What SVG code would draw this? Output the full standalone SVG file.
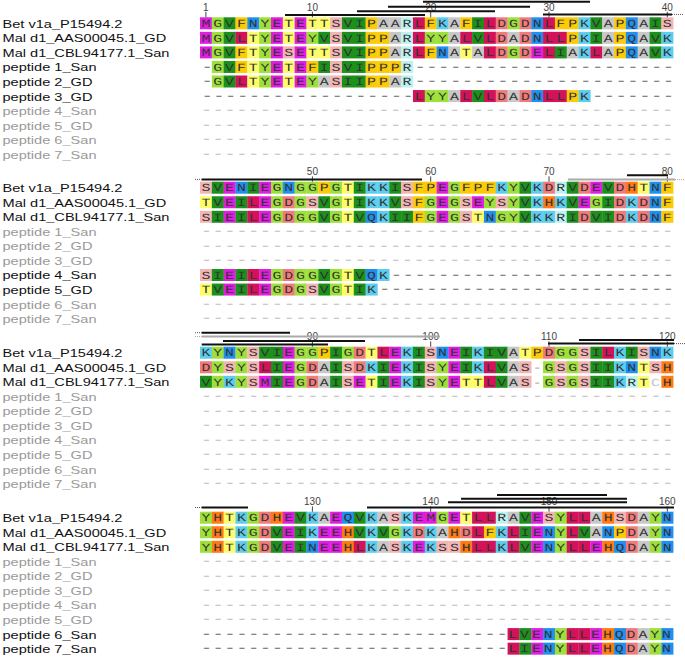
<svg xmlns="http://www.w3.org/2000/svg" width="685" height="658" viewBox="0 0 685 658">
<style>
.lb{font-family:"Liberation Sans",Arial,sans-serif;font-size:10.2px;fill:#111}
.lb .g{fill:#9a9a9a}
.sq{font-family:"Liberation Mono","Courier New",monospace;font-size:11px;fill:#333;letter-spacing:2.162px}
.gp{fill:#777;font-size:14px;letter-spacing:0.362px}
.gpl{fill:#c4c4c4;font-size:14px;letter-spacing:0.362px}
.gg{fill:#999}
.cc{fill:#c4c4c4}
.num{font-family:"Liberation Sans",Arial,sans-serif;font-size:10px;fill:#444;text-anchor:middle}
.cells rect{width:1.02px;height:12px}
.M,.E{fill:#e21ce2}
.G,.Y{fill:#9de03a}
.V,.I{fill:#1b911b}
.F,.P{fill:#fccb05}
.T{fill:#fdfd6c}
.S{fill:#f5b4b4}
.A{fill:#c8c8c8}
.R{fill:#bdf2f2}
.L{fill:#d3125a}
.K{fill:#5ccdee}
.N,.Q{fill:#1f8ff0}
.D{fill:#f37a7a}
.H{fill:#ff7a12}
.C{fill:#ffffff}
.bar{stroke:#111;stroke-width:2}
.gbar{stroke:#aaa;stroke-width:2}
.dot{stroke:#555;stroke-width:1;stroke-dasharray:1 1}
.gdot{stroke:#aaa;stroke-width:1;stroke-dasharray:1 1}
.tick{stroke:#444;stroke-width:1}
</style>
<rect width="685" height="658" fill="#fff"/>

<g id="labels" class="lb" transform="scale(1.43,1)">
<g id="labels-b1">
<text x="1.75" y="27.8">Bet v1a_P15494.2</text>
<text x="1.75" y="42.35">Mal d1_AAS00045.1_GD</text>
<text x="1.75" y="56.9">Mal d1_CBL94177.1_San</text>
<text x="1.75" y="71.45">peptide 1_San</text>
<text x="1.75" y="86">peptide 2_GD</text>
<text x="1.75" y="100.55">peptide 3_GD</text>
<text x="1.75" y="115.1" class="g">peptide 4_San</text>
<text x="1.75" y="129.65" class="g">peptide 5_GD</text>
<text x="1.75" y="144.2" class="g">peptide 6_San</text>
<text x="1.75" y="158.75" class="g">peptide 7_San</text>
</g>
<g id="labels-b2">
<text x="1.75" y="192.2">Bet v1a_P15494.2</text>
<text x="1.75" y="206.75">Mal d1_AAS00045.1_GD</text>
<text x="1.75" y="221.3">Mal d1_CBL94177.1_San</text>
<text x="1.75" y="235.85" class="g">peptide 1_San</text>
<text x="1.75" y="250.4" class="g">peptide 2_GD</text>
<text x="1.75" y="264.95" class="g">peptide 3_GD</text>
<text x="1.75" y="279.5">peptide 4_San</text>
<text x="1.75" y="294.05">peptide 5_GD</text>
<text x="1.75" y="308.6" class="g">peptide 6_San</text>
<text x="1.75" y="323.15" class="g">peptide 7_San</text>
</g>
<g id="labels-b3">
<text x="1.75" y="357.2">Bet v1a_P15494.2</text>
<text x="1.75" y="371.75">Mal d1_AAS00045.1_GD</text>
<text x="1.75" y="386.3">Mal d1_CBL94177.1_San</text>
<text x="1.75" y="400.85" class="g">peptide 1_San</text>
<text x="1.75" y="415.4" class="g">peptide 2_GD</text>
<text x="1.75" y="429.95" class="g">peptide 3_GD</text>
<text x="1.75" y="444.5" class="g">peptide 4_San</text>
<text x="1.75" y="459.05" class="g">peptide 5_GD</text>
<text x="1.75" y="473.6" class="g">peptide 6_San</text>
<text x="1.75" y="488.15" class="g">peptide 7_San</text>
</g>
<g id="labels-b4">
<text x="1.75" y="522.2">Bet v1a_P15494.2</text>
<text x="1.75" y="536.75">Mal d1_AAS00045.1_GD</text>
<text x="1.75" y="551.3">Mal d1_CBL94177.1_San</text>
<text x="1.75" y="565.85" class="g">peptide 1_San</text>
<text x="1.75" y="580.4" class="g">peptide 2_GD</text>
<text x="1.75" y="594.95" class="g">peptide 3_GD</text>
<text x="1.75" y="609.5" class="g">peptide 4_San</text>
<text x="1.75" y="624.05" class="g">peptide 5_GD</text>
<text x="1.75" y="638.6">peptide 6_San</text>
<text x="1.75" y="653.15">peptide 7_San</text>
</g>
</g>

<g id="cells" class="cells">
<g id="b1r0" transform="translate(200,17.3) scale(11.83,1)"><rect x="0" class="M"/><rect x="1" class="G"/><rect x="2" class="V"/><rect x="3" class="F"/><rect x="4" class="N"/><rect x="5" class="Y"/><rect x="6" class="E"/><rect x="7" class="T"/><rect x="8" class="E"/><rect x="9" class="T"/><rect x="10" class="T"/><rect x="11" class="S"/><rect x="12" class="V"/><rect x="13" class="I"/><rect x="14" class="P"/><rect x="15" class="A"/><rect x="16" class="A"/><rect x="17" class="R"/><rect x="18" class="L"/><rect x="19" class="F"/><rect x="20" class="K"/><rect x="21" class="A"/><rect x="22" class="F"/><rect x="23" class="I"/><rect x="24" class="L"/><rect x="25" class="D"/><rect x="26" class="G"/><rect x="27" class="D"/><rect x="28" class="N"/><rect x="29" class="L"/><rect x="30" class="F"/><rect x="31" class="P"/><rect x="32" class="K"/><rect x="33" class="V"/><rect x="34" class="A"/><rect x="35" class="P"/><rect x="36" class="Q"/><rect x="37" class="A"/><rect x="38" class="I"/><rect x="39" class="S"/></g>
<g id="b1r1" transform="translate(200,31.85) scale(11.83,1)"><rect x="0" class="M"/><rect x="1" class="G"/><rect x="2" class="V"/><rect x="3" class="L"/><rect x="4" class="T"/><rect x="5" class="Y"/><rect x="6" class="E"/><rect x="7" class="T"/><rect x="8" class="E"/><rect x="9" class="Y"/><rect x="10" class="V"/><rect x="11" class="S"/><rect x="12" class="V"/><rect x="13" class="I"/><rect x="14" class="P"/><rect x="15" class="P"/><rect x="16" class="A"/><rect x="17" class="R"/><rect x="18" class="L"/><rect x="19" class="Y"/><rect x="20" class="Y"/><rect x="21" class="A"/><rect x="22" class="L"/><rect x="23" class="V"/><rect x="24" class="L"/><rect x="25" class="D"/><rect x="26" class="A"/><rect x="27" class="D"/><rect x="28" class="N"/><rect x="29" class="L"/><rect x="30" class="L"/><rect x="31" class="P"/><rect x="32" class="K"/><rect x="33" class="I"/><rect x="34" class="A"/><rect x="35" class="P"/><rect x="36" class="Q"/><rect x="37" class="A"/><rect x="38" class="V"/><rect x="39" class="K"/></g>
<g id="b1r2" transform="translate(200,46.4) scale(11.83,1)"><rect x="0" class="M"/><rect x="1" class="G"/><rect x="2" class="V"/><rect x="3" class="F"/><rect x="4" class="T"/><rect x="5" class="Y"/><rect x="6" class="E"/><rect x="7" class="S"/><rect x="8" class="E"/><rect x="9" class="T"/><rect x="10" class="T"/><rect x="11" class="S"/><rect x="12" class="V"/><rect x="13" class="I"/><rect x="14" class="P"/><rect x="15" class="P"/><rect x="16" class="A"/><rect x="17" class="R"/><rect x="18" class="L"/><rect x="19" class="F"/><rect x="20" class="N"/><rect x="21" class="A"/><rect x="22" class="T"/><rect x="23" class="A"/><rect x="24" class="L"/><rect x="25" class="D"/><rect x="26" class="G"/><rect x="27" class="D"/><rect x="28" class="E"/><rect x="29" class="L"/><rect x="30" class="I"/><rect x="31" class="A"/><rect x="32" class="K"/><rect x="33" class="L"/><rect x="34" class="A"/><rect x="35" class="P"/><rect x="36" class="Q"/><rect x="37" class="A"/><rect x="38" class="V"/><rect x="39" class="K"/></g>
<g id="b1r3" transform="translate(200,60.95) scale(11.83,1)"><rect x="1" class="G"/><rect x="2" class="V"/><rect x="3" class="F"/><rect x="4" class="T"/><rect x="5" class="Y"/><rect x="6" class="E"/><rect x="7" class="T"/><rect x="8" class="E"/><rect x="9" class="F"/><rect x="10" class="I"/><rect x="11" class="S"/><rect x="12" class="V"/><rect x="13" class="I"/><rect x="14" class="P"/><rect x="15" class="P"/><rect x="16" class="P"/><rect x="17" class="R"/></g>
<g id="b1r4" transform="translate(200,75.5) scale(11.83,1)"><rect x="1" class="G"/><rect x="2" class="V"/><rect x="3" class="L"/><rect x="4" class="T"/><rect x="5" class="Y"/><rect x="6" class="E"/><rect x="7" class="T"/><rect x="8" class="E"/><rect x="9" class="Y"/><rect x="10" class="A"/><rect x="11" class="S"/><rect x="12" class="I"/><rect x="13" class="I"/><rect x="14" class="P"/><rect x="15" class="P"/><rect x="16" class="A"/><rect x="17" class="R"/></g>
<g id="b1r5" transform="translate(200,90.05) scale(11.83,1)"><rect x="18" class="L"/><rect x="19" class="Y"/><rect x="20" class="Y"/><rect x="21" class="A"/><rect x="22" class="L"/><rect x="23" class="V"/><rect x="24" class="L"/><rect x="25" class="D"/><rect x="26" class="A"/><rect x="27" class="D"/><rect x="28" class="N"/><rect x="29" class="L"/><rect x="30" class="L"/><rect x="31" class="P"/><rect x="32" class="K"/></g>

<g id="b2r0" transform="translate(200,181.7) scale(11.83,1)"><rect x="0" class="S"/><rect x="1" class="V"/><rect x="2" class="E"/><rect x="3" class="N"/><rect x="4" class="I"/><rect x="5" class="E"/><rect x="6" class="G"/><rect x="7" class="N"/><rect x="8" class="G"/><rect x="9" class="G"/><rect x="10" class="P"/><rect x="11" class="G"/><rect x="12" class="T"/><rect x="13" class="I"/><rect x="14" class="K"/><rect x="15" class="K"/><rect x="16" class="I"/><rect x="17" class="S"/><rect x="18" class="F"/><rect x="19" class="P"/><rect x="20" class="E"/><rect x="21" class="G"/><rect x="22" class="F"/><rect x="23" class="P"/><rect x="24" class="F"/><rect x="25" class="K"/><rect x="26" class="Y"/><rect x="27" class="V"/><rect x="28" class="K"/><rect x="29" class="D"/><rect x="30" class="R"/><rect x="31" class="V"/><rect x="32" class="D"/><rect x="33" class="E"/><rect x="34" class="V"/><rect x="35" class="D"/><rect x="36" class="H"/><rect x="37" class="T"/><rect x="38" class="N"/><rect x="39" class="F"/></g>
<g id="b2r1" transform="translate(200,196.25) scale(11.83,1)"><rect x="0" class="T"/><rect x="1" class="V"/><rect x="2" class="E"/><rect x="3" class="I"/><rect x="4" class="L"/><rect x="5" class="E"/><rect x="6" class="G"/><rect x="7" class="D"/><rect x="8" class="G"/><rect x="9" class="S"/><rect x="10" class="V"/><rect x="11" class="G"/><rect x="12" class="T"/><rect x="13" class="I"/><rect x="14" class="K"/><rect x="15" class="K"/><rect x="16" class="V"/><rect x="17" class="S"/><rect x="18" class="F"/><rect x="19" class="G"/><rect x="20" class="E"/><rect x="21" class="G"/><rect x="22" class="S"/><rect x="23" class="E"/><rect x="24" class="Y"/><rect x="25" class="S"/><rect x="26" class="Y"/><rect x="27" class="V"/><rect x="28" class="K"/><rect x="29" class="H"/><rect x="30" class="K"/><rect x="31" class="V"/><rect x="32" class="E"/><rect x="33" class="G"/><rect x="34" class="I"/><rect x="35" class="D"/><rect x="36" class="K"/><rect x="37" class="D"/><rect x="38" class="N"/><rect x="39" class="F"/></g>
<g id="b2r2" transform="translate(200,210.8) scale(11.83,1)"><rect x="0" class="S"/><rect x="1" class="I"/><rect x="2" class="E"/><rect x="3" class="I"/><rect x="4" class="L"/><rect x="5" class="E"/><rect x="6" class="G"/><rect x="7" class="D"/><rect x="8" class="G"/><rect x="9" class="G"/><rect x="10" class="V"/><rect x="11" class="G"/><rect x="12" class="T"/><rect x="13" class="V"/><rect x="14" class="Q"/><rect x="15" class="K"/><rect x="16" class="I"/><rect x="17" class="I"/><rect x="18" class="F"/><rect x="19" class="G"/><rect x="20" class="E"/><rect x="21" class="G"/><rect x="22" class="S"/><rect x="23" class="T"/><rect x="24" class="N"/><rect x="25" class="G"/><rect x="26" class="Y"/><rect x="27" class="V"/><rect x="28" class="K"/><rect x="29" class="K"/><rect x="30" class="R"/><rect x="31" class="I"/><rect x="32" class="D"/><rect x="33" class="V"/><rect x="34" class="I"/><rect x="35" class="D"/><rect x="36" class="K"/><rect x="37" class="D"/><rect x="38" class="N"/><rect x="39" class="F"/></g>
<g id="b2r6" transform="translate(200,269) scale(11.83,1)"><rect x="0" class="S"/><rect x="1" class="I"/><rect x="2" class="E"/><rect x="3" class="I"/><rect x="4" class="L"/><rect x="5" class="E"/><rect x="6" class="G"/><rect x="7" class="D"/><rect x="8" class="G"/><rect x="9" class="G"/><rect x="10" class="V"/><rect x="11" class="G"/><rect x="12" class="T"/><rect x="13" class="V"/><rect x="14" class="Q"/><rect x="15" class="K"/></g>
<g id="b2r7" transform="translate(200,283.55) scale(11.83,1)"><rect x="0" class="T"/><rect x="1" class="V"/><rect x="2" class="E"/><rect x="3" class="I"/><rect x="4" class="L"/><rect x="5" class="E"/><rect x="6" class="G"/><rect x="7" class="D"/><rect x="8" class="G"/><rect x="9" class="S"/><rect x="10" class="V"/><rect x="11" class="G"/><rect x="12" class="T"/><rect x="13" class="I"/><rect x="14" class="K"/></g>

<g id="b3r0" transform="translate(200,346.7) scale(11.83,1)"><rect x="0" class="K"/><rect x="1" class="Y"/><rect x="2" class="N"/><rect x="3" class="Y"/><rect x="4" class="S"/><rect x="5" class="V"/><rect x="6" class="I"/><rect x="7" class="E"/><rect x="8" class="G"/><rect x="9" class="G"/><rect x="10" class="P"/><rect x="11" class="I"/><rect x="12" class="G"/><rect x="13" class="D"/><rect x="14" class="T"/><rect x="15" class="L"/><rect x="16" class="E"/><rect x="17" class="K"/><rect x="18" class="I"/><rect x="19" class="S"/><rect x="20" class="N"/><rect x="21" class="E"/><rect x="22" class="I"/><rect x="23" class="K"/><rect x="24" class="I"/><rect x="25" class="V"/><rect x="26" class="A"/><rect x="27" class="T"/><rect x="28" class="P"/><rect x="29" class="D"/><rect x="30" class="G"/><rect x="31" class="G"/><rect x="32" class="S"/><rect x="33" class="I"/><rect x="34" class="L"/><rect x="35" class="K"/><rect x="36" class="I"/><rect x="37" class="S"/><rect x="38" class="N"/><rect x="39" class="K"/></g>
<g id="b3r1" transform="translate(200,361.25) scale(11.83,1)"><rect x="0" class="D"/><rect x="1" class="Y"/><rect x="2" class="S"/><rect x="3" class="Y"/><rect x="4" class="S"/><rect x="5" class="L"/><rect x="6" class="I"/><rect x="7" class="E"/><rect x="8" class="G"/><rect x="9" class="D"/><rect x="10" class="A"/><rect x="11" class="I"/><rect x="12" class="S"/><rect x="13" class="D"/><rect x="14" class="K"/><rect x="15" class="I"/><rect x="16" class="E"/><rect x="17" class="K"/><rect x="18" class="I"/><rect x="19" class="S"/><rect x="20" class="Y"/><rect x="21" class="E"/><rect x="22" class="I"/><rect x="23" class="K"/><rect x="24" class="L"/><rect x="25" class="V"/><rect x="26" class="A"/><rect x="27" class="S"/><rect x="29" class="G"/><rect x="30" class="S"/><rect x="31" class="G"/><rect x="32" class="S"/><rect x="33" class="I"/><rect x="34" class="I"/><rect x="35" class="K"/><rect x="36" class="N"/><rect x="37" class="T"/><rect x="38" class="S"/><rect x="39" class="H"/></g>
<g id="b3r2" transform="translate(200,375.8) scale(11.83,1)"><rect x="0" class="V"/><rect x="1" class="Y"/><rect x="2" class="K"/><rect x="3" class="Y"/><rect x="4" class="S"/><rect x="5" class="M"/><rect x="6" class="I"/><rect x="7" class="E"/><rect x="8" class="G"/><rect x="9" class="D"/><rect x="10" class="A"/><rect x="11" class="I"/><rect x="12" class="S"/><rect x="13" class="E"/><rect x="14" class="T"/><rect x="15" class="I"/><rect x="16" class="E"/><rect x="17" class="K"/><rect x="18" class="I"/><rect x="19" class="S"/><rect x="20" class="Y"/><rect x="21" class="E"/><rect x="22" class="T"/><rect x="23" class="T"/><rect x="24" class="L"/><rect x="25" class="V"/><rect x="26" class="A"/><rect x="27" class="S"/><rect x="29" class="G"/><rect x="30" class="S"/><rect x="31" class="G"/><rect x="32" class="S"/><rect x="33" class="I"/><rect x="34" class="I"/><rect x="35" class="K"/><rect x="36" class="R"/><rect x="37" class="T"/><rect x="38" class="C"/><rect x="39" class="H"/></g>

<g id="b4r0" transform="translate(200,511.7) scale(11.83,1)"><rect x="0" class="Y"/><rect x="1" class="H"/><rect x="2" class="T"/><rect x="3" class="K"/><rect x="4" class="G"/><rect x="5" class="D"/><rect x="6" class="H"/><rect x="7" class="E"/><rect x="8" class="V"/><rect x="9" class="K"/><rect x="10" class="A"/><rect x="11" class="E"/><rect x="12" class="Q"/><rect x="13" class="V"/><rect x="14" class="K"/><rect x="15" class="A"/><rect x="16" class="S"/><rect x="17" class="K"/><rect x="18" class="E"/><rect x="19" class="M"/><rect x="20" class="G"/><rect x="21" class="E"/><rect x="22" class="T"/><rect x="23" class="L"/><rect x="24" class="L"/><rect x="25" class="R"/><rect x="26" class="A"/><rect x="27" class="V"/><rect x="28" class="E"/><rect x="29" class="S"/><rect x="30" class="Y"/><rect x="31" class="L"/><rect x="32" class="L"/><rect x="33" class="A"/><rect x="34" class="H"/><rect x="35" class="S"/><rect x="36" class="D"/><rect x="37" class="A"/><rect x="38" class="Y"/><rect x="39" class="N"/></g>
<g id="b4r1" transform="translate(200,526.25) scale(11.83,1)"><rect x="0" class="Y"/><rect x="1" class="H"/><rect x="2" class="T"/><rect x="3" class="K"/><rect x="4" class="G"/><rect x="5" class="D"/><rect x="6" class="V"/><rect x="7" class="E"/><rect x="8" class="I"/><rect x="9" class="K"/><rect x="10" class="E"/><rect x="11" class="E"/><rect x="12" class="H"/><rect x="13" class="V"/><rect x="14" class="K"/><rect x="15" class="V"/><rect x="16" class="G"/><rect x="17" class="K"/><rect x="18" class="D"/><rect x="19" class="K"/><rect x="20" class="A"/><rect x="21" class="H"/><rect x="22" class="D"/><rect x="23" class="L"/><rect x="24" class="F"/><rect x="25" class="K"/><rect x="26" class="L"/><rect x="27" class="I"/><rect x="28" class="E"/><rect x="29" class="N"/><rect x="30" class="Y"/><rect x="31" class="L"/><rect x="32" class="V"/><rect x="33" class="A"/><rect x="34" class="N"/><rect x="35" class="P"/><rect x="36" class="D"/><rect x="37" class="A"/><rect x="38" class="Y"/><rect x="39" class="N"/></g>
<g id="b4r2" transform="translate(200,540.8) scale(11.83,1)"><rect x="0" class="Y"/><rect x="1" class="H"/><rect x="2" class="T"/><rect x="3" class="K"/><rect x="4" class="G"/><rect x="5" class="D"/><rect x="6" class="V"/><rect x="7" class="E"/><rect x="8" class="I"/><rect x="9" class="N"/><rect x="10" class="E"/><rect x="11" class="E"/><rect x="12" class="H"/><rect x="13" class="L"/><rect x="14" class="K"/><rect x="15" class="A"/><rect x="16" class="S"/><rect x="17" class="K"/><rect x="18" class="E"/><rect x="19" class="K"/><rect x="20" class="S"/><rect x="21" class="S"/><rect x="22" class="H"/><rect x="23" class="L"/><rect x="24" class="L"/><rect x="25" class="K"/><rect x="26" class="L"/><rect x="27" class="V"/><rect x="28" class="E"/><rect x="29" class="N"/><rect x="30" class="Y"/><rect x="31" class="L"/><rect x="32" class="L"/><rect x="33" class="E"/><rect x="34" class="H"/><rect x="35" class="Q"/><rect x="36" class="D"/><rect x="37" class="A"/><rect x="38" class="Y"/><rect x="39" class="N"/></g>
<g id="b4r8" transform="translate(200,628.1) scale(11.83,1)"><rect x="26" class="L"/><rect x="27" class="V"/><rect x="28" class="E"/><rect x="29" class="N"/><rect x="30" class="Y"/><rect x="31" class="L"/><rect x="32" class="L"/><rect x="33" class="E"/><rect x="34" class="H"/><rect x="35" class="Q"/><rect x="36" class="D"/><rect x="37" class="A"/><rect x="38" class="Y"/><rect x="39" class="N"/></g>
<g id="b4r9" transform="translate(200,642.65) scale(11.83,1)"><rect x="26" class="L"/><rect x="27" class="I"/><rect x="28" class="E"/><rect x="29" class="N"/><rect x="30" class="Y"/><rect x="31" class="L"/><rect x="32" class="L"/><rect x="33" class="E"/><rect x="34" class="H"/><rect x="35" class="Q"/><rect x="36" class="D"/><rect x="37" class="A"/><rect x="38" class="Y"/><rect x="39" class="N"/></g>
</g>

<g id="sequences" class="sq" transform="translate(200,0) scale(1.35,1)" text-rendering="geometricPrecision">
<text x="1.08" y="27">MGVFNYETETTSVIPAARLFKAFILDGDNLFPKVAPQAIS</text>
<text x="1.08" y="41.55">MGVLTYETEYVSVIPPARLYYALVLDADNLLPKIAPQAVK</text>
<text x="1.08" y="56.1">MGVFTYESETTSVIPPARLFNATALDGDELIAKLAPQAVK</text>
<text x="1.08" y="70.65"><tspan class="gp">-</tspan>GVFTYETEFISVIPPPR<tspan class="gp">----------------------</tspan></text>
<text x="1.08" y="85.2"><tspan class="gp">-</tspan>GVLTYETEYASIIPPAR<tspan class="gp">----------------------</tspan></text>
<text x="1.08" y="99.75"><tspan class="gp">------------------</tspan>LYYALVLDADNLLPK<tspan class="gp">-------</tspan></text>
<text x="0.5" y="114.3" class="gpl">----------------------------------------</text>
<text x="0.5" y="128.85" class="gpl">----------------------------------------</text>
<text x="0.5" y="143.4" class="gpl">----------------------------------------</text>
<text x="0.5" y="157.95" class="gpl">----------------------------------------</text>

<text x="1.08" y="191.4">SVENIEGNGGPGTIKKISFPEGFPFKYVKDRVDEVDHTNF</text>
<text x="1.08" y="205.95">TVEILEGDGSVGTIKKVSFGEGSEYSYVKHKVEGIDKDNF</text>
<text x="1.08" y="220.5">SIEILEGDGGVGTVQKIIFGEGSTNGYVKKRIDVIDKDNF</text>
<text x="0.5" y="235.05" class="gpl">----------------------------------------</text>
<text x="0.5" y="249.6" class="gpl">----------------------------------------</text>
<text x="0.5" y="264.15" class="gpl">----------------------------------------</text>
<text x="1.08" y="278.7">SIEILEGDGGVGTVQK<tspan class="gp">------------------------</tspan></text>
<text x="1.08" y="293.25">TVEILEGDGSVGTIK<tspan class="gp">-------------------------</tspan></text>
<text x="0.5" y="307.8" class="gpl">----------------------------------------</text>
<text x="0.5" y="322.35" class="gpl">----------------------------------------</text>

<text x="1.08" y="356.4">KYNYSVIEGGPIGDTLEKISNEIKIVATPDGGSILKISNK</text>
<text x="1.08" y="370.95">DYSYSLIEGDAISDKIEKISYEIKLVAS<tspan class="gg">-</tspan>GSGSIIKNTSH</text>
<text x="1.08" y="385.5">VYKYSMIEGDAISETIEKISYETTLVAS<tspan class="gg">-</tspan>GSGSIIKRT<tspan class="cc">C</tspan>H</text>
<text x="0.5" y="400.05" class="gpl">----------------------------------------</text>
<text x="0.5" y="414.6" class="gpl">----------------------------------------</text>
<text x="0.5" y="429.15" class="gpl">----------------------------------------</text>
<text x="0.5" y="443.7" class="gpl">----------------------------------------</text>
<text x="0.5" y="458.25" class="gpl">----------------------------------------</text>
<text x="0.5" y="472.8" class="gpl">----------------------------------------</text>
<text x="0.5" y="487.35" class="gpl">----------------------------------------</text>

<text x="1.08" y="521.4">YHTKGDHEVKAEQVKASKEMGETLLRAVESYLLAHSDAYN</text>
<text x="1.08" y="535.95">YHTKGDVEIKEEHVKVGKDKAHDLFKLIENYLVANPDAYN</text>
<text x="1.08" y="550.5">YHTKGDVEINEEHLKASKEKSSHLLKLVENYLLEHQDAYN</text>
<text x="0.5" y="565.05" class="gpl">----------------------------------------</text>
<text x="0.5" y="579.6" class="gpl">----------------------------------------</text>
<text x="0.5" y="594.15" class="gpl">----------------------------------------</text>
<text x="0.5" y="608.7" class="gpl">----------------------------------------</text>
<text x="0.5" y="623.25" class="gpl">----------------------------------------</text>
<text x="0.5" y="637.8"><tspan class="gp">--------------------------</tspan>LVENYLLEHQDAYN</text>
<text x="0.5" y="652.35"><tspan class="gp">--------------------------</tspan>LIENYLLEHQDAYN</text>
</g>

<g id="rulers">
<g class="num">
<text x="205.9" y="10.7">1</text><text x="312.4" y="10.7">10</text><text x="430.7" y="10.7">20</text><text x="549" y="10.7">30</text><text x="667.3" y="10.7">40</text>
<text x="312.4" y="175.4">50</text><text x="430.7" y="175.4">60</text><text x="549" y="175.4">70</text><text x="667.3" y="175.4">80</text>
<text x="312.4" y="340.4">90</text><text x="430.7" y="340.4">100</text><text x="549" y="340.4">110</text><text x="667.3" y="340.4">120</text>
<text x="312.4" y="505.4">130</text><text x="430.7" y="505.4">140</text><text x="549" y="505.4">150</text><text x="667.3" y="505.4">160</text>
</g>
<g class="tick">
<line x1="205.9" y1="11.7" x2="205.9" y2="17.3"/><line x1="312.4" y1="11.7" x2="312.4" y2="17.3"/><line x1="430.7" y1="11.7" x2="430.7" y2="17.3"/><line x1="549" y1="11.7" x2="549" y2="17.3"/><line x1="667.3" y1="11.7" x2="667.3" y2="17.3"/>
<line x1="312.4" y1="176.4" x2="312.4" y2="181.7"/><line x1="430.7" y1="176.4" x2="430.7" y2="181.7"/><line x1="549" y1="176.4" x2="549" y2="181.7"/><line x1="667.3" y1="176.4" x2="667.3" y2="181.7"/>
<line x1="312.4" y1="341.4" x2="312.4" y2="346.7"/><line x1="430.7" y1="341.4" x2="430.7" y2="346.7"/><line x1="549" y1="341.4" x2="549" y2="346.7"/><line x1="667.3" y1="341.4" x2="667.3" y2="346.7"/>
<line x1="312.4" y1="506.4" x2="312.4" y2="511.7"/><line x1="430.7" y1="506.4" x2="430.7" y2="511.7"/><line x1="549" y1="506.4" x2="549" y2="511.7"/><line x1="667.3" y1="506.4" x2="667.3" y2="511.7"/>
</g>
</g>

<g id="connectors">
<line class="bar" x1="285" y1="15" x2="425" y2="15"/>
<line class="bar" x1="357" y1="11.2" x2="495" y2="11.2"/>
<line class="bar" x1="388" y1="6.7" x2="530" y2="6.7"/>
<line class="bar" x1="423" y1="1.8" x2="590" y2="1.8"/>
<line class="bar" x1="543" y1="14.4" x2="672" y2="14.4"/>
<line class="dot" x1="672" y1="14.4" x2="684" y2="14.4"/>

<line class="dot" x1="195" y1="179.4" x2="201.7" y2="179.4"/>
<line class="bar" x1="201.7" y1="179.4" x2="422" y2="179.4"/>
<line class="bar" x1="627" y1="175.2" x2="668" y2="175.2"/>
<line class="gbar" x1="568" y1="179.6" x2="675" y2="179.6"/>
<line class="gdot" x1="675" y1="179.6" x2="685" y2="179.6"/>

<line class="dot" x1="195" y1="332.7" x2="201.7" y2="332.7"/>
<line class="bar" x1="201.7" y1="332.7" x2="290" y2="332.7"/>
<line class="gdot" x1="195" y1="336.5" x2="201.7" y2="336.5"/>
<line class="gbar" x1="201.7" y1="336.5" x2="440" y2="336.5"/>
<line class="bar" x1="223" y1="341" x2="365" y2="341"/>
<line class="bar" x1="201.7" y1="344.5" x2="328" y2="344.5"/>
<line class="bar" x1="579" y1="340" x2="674" y2="340"/>
<line class="bar" x1="548" y1="343.6" x2="674" y2="343.6"/>
<line class="dot" x1="674" y1="343.6" x2="685" y2="343.6"/>

<line class="dot" x1="195" y1="507.5" x2="201.7" y2="507.5"/>
<line class="bar" x1="201.7" y1="507.5" x2="248" y2="507.5"/>
<line class="bar" x1="367" y1="507.5" x2="674" y2="507.5"/>
<line class="bar" x1="497" y1="495" x2="607" y2="495"/>
<line class="bar" x1="461" y1="498.7" x2="627" y2="498.7"/>
<line class="bar" x1="448" y1="502.2" x2="627" y2="502.2"/>
</g>
</svg>
